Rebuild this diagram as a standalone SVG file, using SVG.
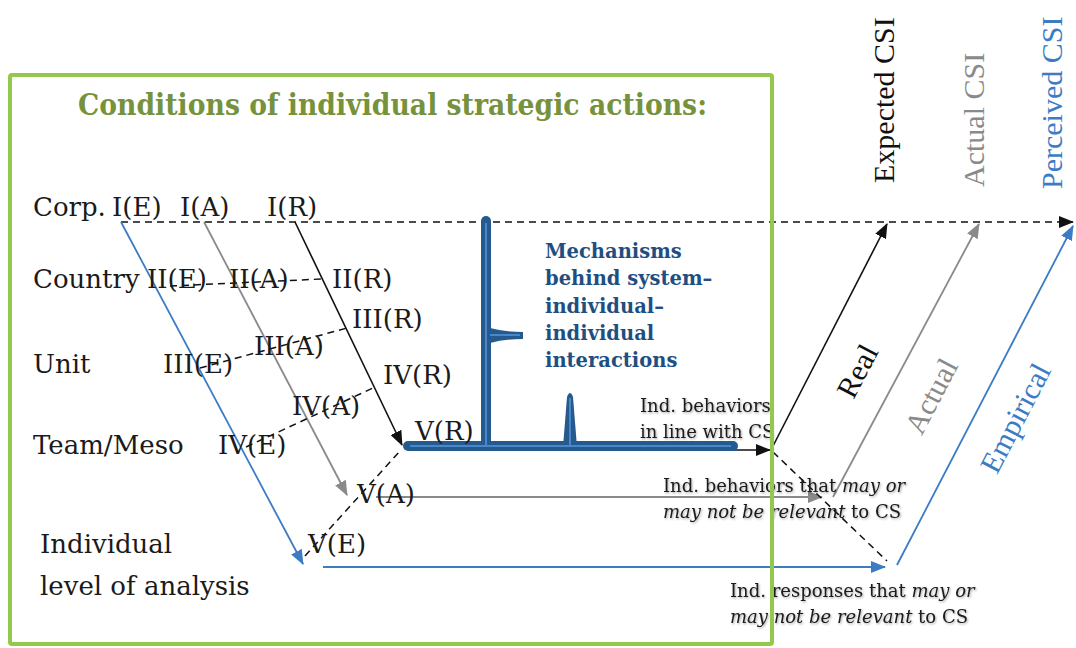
<svg xmlns="http://www.w3.org/2000/svg" width="1076" height="648" viewBox="0 0 1076 648">
  <defs>
    <style>
      .lbl { font-family: "DejaVu Serif", Georgia, serif; font-size: 26px; fill: #1a1a1a; }
      .sm { font-family: "DejaVu Serif", Georgia, serif; font-size: 18px; fill: #1a1a1a; }
      .it { font-style: italic; }
      .csi { font-family: "Liberation Serif", "Times New Roman", serif; font-size: 30px; }
      .mech { font-family: "DejaVu Serif", Georgia, serif; font-size: 19.5px; font-weight: bold; fill: #1f4f82; }
      .title { font-family: "DejaVu Serif", Georgia, serif; font-size: 29px; font-weight: bold; fill: #76923c; }
      .k { stroke: #111; stroke-width: 1.6; fill: none; }
      .g { stroke: #8a8a8a; stroke-width: 1.8; fill: none; }
      .b { stroke: #3b7cc4; stroke-width: 1.8; fill: none; }
      .dash { stroke: #111; stroke-width: 1.5; fill: none; stroke-dasharray: 7 5; }
      .bar { stroke: #245a8d; stroke-width: 10; stroke-linecap: round; fill: none; }
      .barin { stroke: #4a86c8; stroke-width: 2; fill: none; }
    </style>
    <marker id="ak" markerUnits="userSpaceOnUse" markerWidth="15" markerHeight="12" refX="14" refY="6" orient="auto">
      <path d="M0,0 L15,6 L0,12 Z" fill="#111"/>
    </marker>
    <marker id="ag" markerUnits="userSpaceOnUse" markerWidth="15" markerHeight="12" refX="14" refY="6" orient="auto">
      <path d="M0,0 L15,6 L0,12 Z" fill="#8a8a8a"/>
    </marker>
    <marker id="ab" markerUnits="userSpaceOnUse" markerWidth="15" markerHeight="12" refX="14" refY="6" orient="auto">
      <path d="M0,0 L15,6 L0,12 Z" fill="#3b7cc4"/>
    </marker>
    <filter id="soft" x="-5%" y="-20%" width="110%" height="140%">
      <feDropShadow dx="1" dy="1.2" stdDeviation="0.9" flood-color="#000" flood-opacity="0.35"/>
    </filter>
  </defs>

  <rect width="1076" height="648" fill="#fff"/>

  <!-- connectors -->
  <g id="connectors">
    <!-- top line towards the CSI outcomes -->
    <line class="dash" x1="121" y1="222" x2="1073" y2="222" marker-end="url(#ak)"/>
    <!-- level-to-level chains -->
    <line class="b" x1="121" y1="222" x2="303" y2="564" marker-end="url(#ab)"/>
    <line class="g" x1="204" y1="222" x2="347" y2="495" marker-end="url(#ag)"/>
    <line class="k" x1="295" y1="222" x2="402" y2="445" marker-end="url(#ak)"/>
    <!-- dashed links across each level -->
    <line class="dash" x1="170" y1="286" x2="322" y2="279"/>
    <line class="dash" x1="200" y1="368" x2="347" y2="328"/>
    <line class="dash" x1="246" y1="447" x2="373" y2="388"/>
    <line class="dash" x1="305" y1="556" x2="400" y2="451"/>
    <!-- individual-level outputs -->
    <line class="g" x1="376" y1="497" x2="822" y2="497" marker-end="url(#ag)"/>
    <line class="b" x1="323" y1="567" x2="885" y2="567" marker-end="url(#ab)"/>
    <line class="k" x1="730" y1="450" x2="770" y2="450" marker-end="url(#ak)"/>
    <line class="dash" x1="773" y1="452" x2="887" y2="561"/>
    <!-- rising paths to the CSI outcomes -->
    <line class="k" x1="772" y1="448" x2="887" y2="224" marker-end="url(#ak)"/>
    <line class="g" x1="833" y1="497" x2="979" y2="224" marker-end="url(#ag)"/>
    <line class="b" x1="897" y1="565" x2="1073" y2="226" marker-end="url(#ab)"/>
  </g>

  <!-- mechanism frame (T-shaped bar with two spikes) -->
  <g id="mechanism-bar">
    <line class="bar" x1="486" y1="221" x2="486" y2="446"/>
    <line class="bar" x1="408" y1="446" x2="733" y2="446" stroke-linecap="butt"/>
    <path d="M408,441 L733,441 L733,451 L408,451 Z" fill="#245a8d"/>
    <path d="M490,328 Q505,332 523,332 L523,339 Q505,339 490,343 Z" fill="#245a8d"/>
    <path d="M563,447 L567,397 Q570,389 573,397 L577,447 Z" fill="#245a8d"/>
    <line class="barin" x1="486" y1="223" x2="486" y2="446"/>
    <line class="barin" x1="410" y1="446" x2="731" y2="446"/>
    <line class="barin" x1="490" y1="335" x2="520" y2="335"/>
    <line class="barin" x1="570" y1="398" x2="570" y2="446"/>
  </g>

  <g id="mechanism-label">
    <text class="mech" x="545" y="258">Mechanisms</text>
    <text class="mech" x="545" y="285">behind system–</text>
    <text class="mech" x="545" y="313">individual–</text>
    <text class="mech" x="545" y="340">individual</text>
    <text class="mech" x="545" y="367">interactions</text>
  </g>

  <!-- levels of analysis -->
  <g id="level-corp"><text class="lbl" x="33" y="216">Corp.</text></g>
  <g id="level-country"><text class="lbl" x="33" y="288">Country</text></g>
  <g id="level-unit"><text class="lbl" x="33" y="373">Unit</text></g>
  <g id="level-team"><text class="lbl" x="33" y="454">Team/Meso</text></g>
  <g id="level-individual">
    <text class="lbl" x="40" y="553">Individual</text>
    <text class="lbl" x="40" y="595">level of analysis</text>
  </g>

  <!-- conditions per level: Empirical / Actual / Real -->
  <g id="cond-I">
    <text class="lbl" x="112" y="216">I(E)</text>
    <text class="lbl" x="180" y="216">I(A)</text>
    <text class="lbl" x="267" y="216">I(R)</text>
  </g>
  <g id="cond-II">
    <text class="lbl" x="147" y="288">II(E)</text>
    <text class="lbl" x="229" y="288">II(A)</text>
    <text class="lbl" x="332" y="288">II(R)</text>
  </g>
  <g id="cond-III">
    <text class="lbl" x="163" y="373">III(E)</text>
    <text class="lbl" x="254" y="355">III(A)</text>
    <text class="lbl" x="352" y="328">III(R)</text>
  </g>
  <g id="cond-IV">
    <text class="lbl" x="218" y="454">IV(E)</text>
    <text class="lbl" x="292" y="415">IV(A)</text>
    <text class="lbl" x="383" y="384">IV(R)</text>
  </g>
  <g id="cond-V">
    <text class="lbl" x="308" y="553">V(E)</text>
    <text class="lbl" x="357" y="503">V(A)</text>
    <text class="lbl" x="415" y="440">V(R)</text>
  </g>

  <!-- individual outputs -->
  <g id="out-real" filter="url(#soft)">
    <text class="sm" x="640" y="412">Ind. behaviors</text>
    <text class="sm" x="640" y="438">in line with CS</text>
  </g>
  <g id="out-actual" filter="url(#soft)">
    <text class="sm" x="663" y="492">Ind. behaviors that <tspan class="it">may or</tspan></text>
    <text class="sm" x="663" y="518"><tspan class="it">may not be relevant</tspan> to CS</text>
  </g>
  <g id="out-empirical" filter="url(#soft)">
    <text class="sm" x="730" y="597">Ind. responses that <tspan class="it">may or</tspan></text>
    <text class="sm" x="730" y="623"><tspan class="it">may not be relevant</tspan> to CS</text>
  </g>

  <!-- path labels -->
  <g id="path-real"><text class="csi" fill="#111" text-anchor="middle" dominant-baseline="central" transform="translate(857,371) rotate(-62.5)">Real</text></g>
  <g id="path-actual"><text class="csi" fill="#8a8a8a" text-anchor="middle" dominant-baseline="central" transform="translate(931,396) rotate(-62.5)">Actual</text></g>
  <g id="path-empirical"><text class="csi" fill="#3b7cc4" text-anchor="middle" dominant-baseline="central" transform="translate(1015,418) rotate(-62.5)">Empirical</text></g>

  <!-- CSI outcomes -->
  <g id="csi-expected"><text class="csi" fill="#111" transform="translate(894,183) rotate(-90)">Expected CSI</text></g>
  <g id="csi-actual"><text class="csi" fill="#8a8a8a" transform="translate(984,187) rotate(-90)">Actual CSI</text></g>
  <g id="csi-perceived"><text class="csi" fill="#3b7cc4" transform="translate(1062,189) rotate(-90)">Perceived CSI</text></g>

  <!-- conditions frame -->
  <g id="conditions-frame">
    <rect x="10" y="75" width="762" height="569" fill="none" stroke="#92c84b" stroke-width="4" rx="2"/>
    <text class="title" x="78" y="115" textLength="629" lengthAdjust="spacingAndGlyphs">Conditions of individual strategic actions:</text>
  </g>
</svg>
